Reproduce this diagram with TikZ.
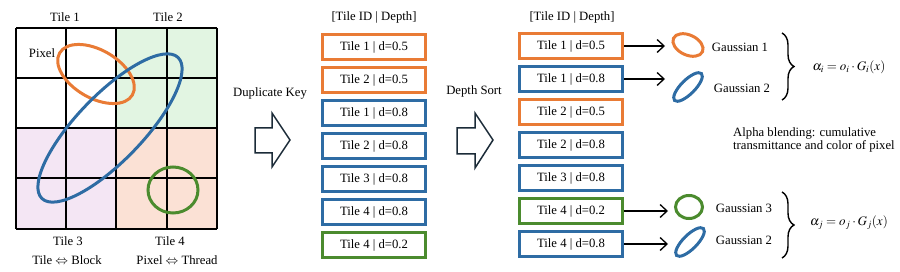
\documentclass[tikz,border=0pt]{standalone}
\usepackage{mathptmx}
\usepackage{fontspec}
\setmainfont{Liberation Serif}
\usetikzlibrary{shapes.geometric,arrows.meta,decorations.pathreplacing}
\definecolor{gorange}{HTML}{E97B35}
\definecolor{gblue}{HTML}{2E6CA4}
\definecolor{ggreen}{HTML}{4B8B2E}
\definecolor{fgreen}{HTML}{E2F5E2}
\definecolor{fpurple}{HTML}{F4E6F4}
\definecolor{fpeach}{HTML}{FBE1D5}
\definecolor{hollow}{HTML}{1B2B38}
\begin{document}
\begin{tikzpicture}[x=1pt,y=-1pt,
  txt/.style={font=\fontsize{12.7}{14}\selectfont, inner sep=0pt},
  keybox/.style={draw=#1, line width=3pt, minimum width=103pt, minimum height=25pt, inner sep=0pt, fill=white, font=\fontsize{12.7}{14}\selectfont},
  gline/.style={line width=1.5pt, black},
  gauss/.style={draw=#1, line width=3pt},
  hollowarrow/.style={draw=hollow, line width=1.5pt, line join=miter},
  link/.style={line width=1.3pt, -{Straight Barb[length=7pt,width=13pt]}},
  brc/.style={decorate, decoration={brace, amplitude=12pt}, line width=1.4pt},
]
\useasboundingbox (0,0) rectangle (900,272);

% ---- tile grid ----
\fill[fgreen] (116,28) rectangle (217,128);
\fill[fpurple] (16,128) rectangle (116,229);
\fill[fpeach] (116,128) rectangle (217,229);
\foreach \x in {16,66,116,167,217} \draw[gline] (\x,28) -- (\x,229);
\foreach \y in {28,78,128,178,229} \draw[gline] (16,\y) -- (217,\y);

\draw[gauss=gorange, rotate around={-30:(96,74)}] (96,74) ellipse [x radius=42pt, y radius=24pt];
\draw[gauss=gblue, rotate around={46:(110,128)}] (110,128) ellipse [x radius=98pt, y radius=33pt];
\draw[gauss=ggreen] (173,190) ellipse [x radius=25pt, y radius=23pt];

\node[txt] (t1) at (65,17) {Tile 1};
\node[txt] (t2) at (168,17) {Tile 2};
\node[txt] (t3) at (68,241) {Tile 3};
\node[txt] (t4) at (170,241) {Tile 4};
\node[txt] (px) at (42,53) {Pixel};
\node[txt] (tb) at (67,260) {Tile $\Leftrightarrow$ Block};
\node[txt] (pt) at (177,260) {Pixel $\Leftrightarrow$ Thread};

% ---- duplicate key ----
\node[txt] (dk) at (270,93) {Duplicate Key};
\draw[hollowarrow] (255,128) -- (272,128) -- (272,113) -- (290,140) -- (272,167) -- (272,153) -- (255,153) -- cycle;

\node[txt] (h1) at (374,17) {[Tile ID | Depth]};
\node[keybox=gorange] (a1) at (374,47) {Tile 1 | d=0.5};
\node[keybox=gorange] (a2) at (374,80) {Tile 2 | d=0.5};
\node[keybox=gblue] (a3) at (374,113) {Tile 1 | d=0.8};
\node[keybox=gblue] (a4) at (374,146) {Tile 2 | d=0.8};
\node[keybox=gblue] (a5) at (374,179) {Tile 3 | d=0.8};
\node[keybox=gblue] (a6) at (374,212) {Tile 4 | d=0.8};
\node[keybox=ggreen] (a7) at (374,245) {Tile 4 | d=0.2};

% ---- depth sort ----
\node[txt] (ds) at (474,91) {Depth Sort};
\draw[hollowarrow] (457,128) -- (475,128) -- (475,113) -- (493,140) -- (475,168) -- (475,154) -- (457,154) -- cycle;

\node[txt] (h2) at (572,17) {[Tile ID | Depth]};
\node[keybox=gorange] (b1) at (571,46) {Tile 1 | d=0.5};
\node[keybox=gblue] (b2) at (571,79) {Tile 1 | d=0.8};
\node[keybox=gorange] (b3) at (571,112) {Tile 2 | d=0.5};
\node[keybox=gblue] (b4) at (571,145) {Tile 2 | d=0.8};
\node[keybox=gblue] (b5) at (571,178) {Tile 3 | d=0.8};
\node[keybox=ggreen] (b6) at (571,211) {Tile 4 | d=0.2};
\node[keybox=gblue] (b7) at (571,244) {Tile 4 | d=0.8};

% ---- gaussians ----
\coordinate (e1) at (665,46);
\coordinate (e2) at (665,79);
\coordinate (e3) at (668,211);
\coordinate (e4) at (668,244);
\draw[link] (b1.east) -- (b1.east -| e1);
\draw[link] (b2.east) -- (b2.east -| e2);
\draw[link] (b6.east) -- (b6.east -| e3);
\draw[link] (b7.east) -- (b7.east -| e4);

\draw[gauss=gorange, rotate around={-25:(688,45)}] (688,45) ellipse [x radius=16pt, y radius=10pt];
\draw[gauss=gblue, rotate around={45:(688,87)}] (688,87) ellipse [x radius=19pt, y radius=7pt];
\draw[gauss=ggreen] (689,207) ellipse [x radius=13.5pt, y radius=11.5pt];
\draw[gauss=gblue, rotate around={45:(690,242)}] (690,242) ellipse [x radius=19pt, y radius=7pt];

\node[txt] (n1) at (740,47) {Gaussian 1};
\node[txt] (n2) at (742,88) {Gaussian 2};
\node[txt] (n3) at (744,208) {Gaussian 3};
\node[txt] (n4) at (744,240) {Gaussian 2};

\draw[brc] (782,33) -- (782,100);
\draw[brc] (782,192) -- (782,258);

\node[txt, font=\fontsize{13}{15}\selectfont] (f1) at (849,67) {$\alpha_i = o_i\cdot G_i(x)$};
\node[txt, font=\fontsize{13}{15}\selectfont] (f2) at (849,223) {$\alpha_j = o_j\cdot G_j(x)$};

\node[txt, font=\fontsize{12.7}{13.5}\selectfont, align=left, anchor=west] (ab) at (733,140) {Alpha blending: cumulative\\transmittance and color of pixel};
\end{tikzpicture}
\end{document}
